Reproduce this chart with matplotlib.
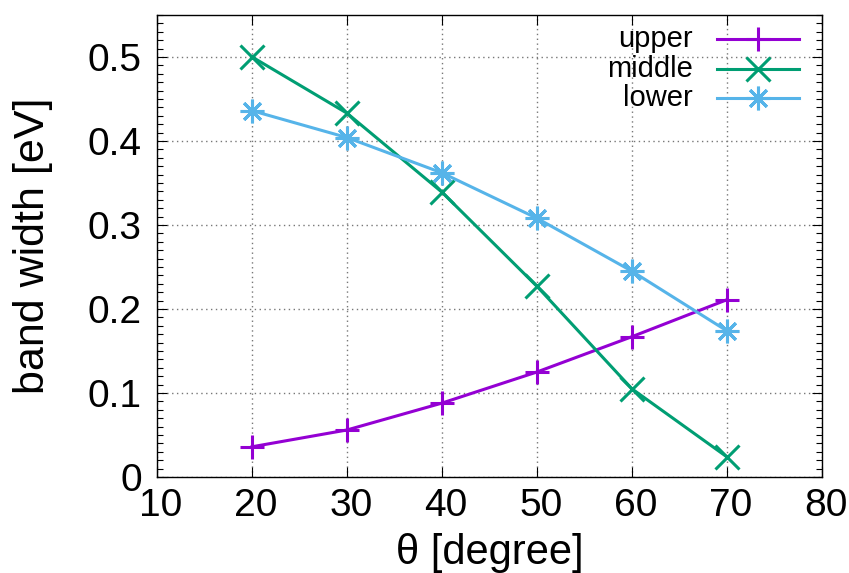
import matplotlib
matplotlib.use("Agg")
import matplotlib.pyplot as plt
import matplotlib.transforms as mtransforms
from matplotlib.ticker import MultipleLocator
from matplotlib.lines import Line2D

plt.rcParams['font.family'] = ['Liberation Sans', 'DejaVu Sans']

theta = [20, 30, 40, 50, 60, 70]
upper = [0.036, 0.056, 0.088, 0.125, 0.167, 0.211]
middle = [0.500, 0.433, 0.339, 0.227, 0.105, 0.024]
lower = [0.436, 0.404, 0.362, 0.308, 0.245, 0.174]

series = [
    ("upper", upper, "#9400d3", "+"),
    ("middle", middle, "#009e73", "x"),
    ("lower", lower, "#56b4e9", (8, 2, 0)),
]

fig = plt.figure(figsize=(8.49, 5.73), dpi=100)
ax = fig.add_axes([0.185, 0.1675, 0.783, 0.8065])

for name, vals, col, mk in series:
    ax.plot(theta, vals, color=col, lw=2.2, marker=mk, ms=17, mew=2.2, label=name)

ax.set_xlim(10, 80)
ax.set_ylim(0, 0.55)
ax.xaxis.set_major_locator(MultipleLocator(10))
ax.yaxis.set_minor_locator(MultipleLocator(0.01))
ax.set_yticks([0, 0.1, 0.2, 0.3, 0.4, 0.5])
ax.set_yticklabels(["0", "0.1", "0.2", "0.3", "0.4", "0.5"])
ax.tick_params(which='both', direction='in', top=True, right=True, labelsize=28, width=0.8)
ax.tick_params(which='major', length=7)
ax.tick_params(axis='y', which='major', pad=11)
ax.tick_params(axis='x', which='major', pad=8)
ax.tick_params(which='minor', length=4)
ax.tick_params(axis='x', which='minor', top=False, bottom=False)
ax.grid(True, which='major', color='#777777', linestyle=(0, (1, 2.5)), lw=1.0)
for s in ax.spines.values():
    s.set_linewidth(1.0)

# nudge x tick labels slightly to the right
shift = mtransforms.ScaledTranslation(4 / 100, 0, fig.dpi_scale_trans)
for lbl in ax.get_xticklabels():
    lbl.set_transform(lbl.get_transform() + shift)

ax.set_xlabel("θ [degree]", fontsize=30)
ax.set_ylabel("band width [eV]", fontsize=31)
ax.xaxis.set_label_coords(0.5, -0.121)
ax.yaxis.set_label_coords(-0.156, 0.5)

# gnuplot-style key: right-justified labels followed by sample line and marker
y0 = 0.948
dy = 0.064
for i, (name, vals, col, mk) in enumerate(series):
    yy = y0 - i * dy
    ax.text(0.806, yy, name, transform=ax.transAxes, ha='right', va='center', fontsize=21)
    ax.add_line(Line2D([0.842, 0.966], [yy, yy], transform=ax.transAxes, color=col, lw=2.2))
    ax.add_line(Line2D([0.904], [yy], transform=ax.transAxes, color=col, marker=mk,
                       ms=17, mew=2.2, ls='none'))

fig.savefig("out.png", dpi=100)
